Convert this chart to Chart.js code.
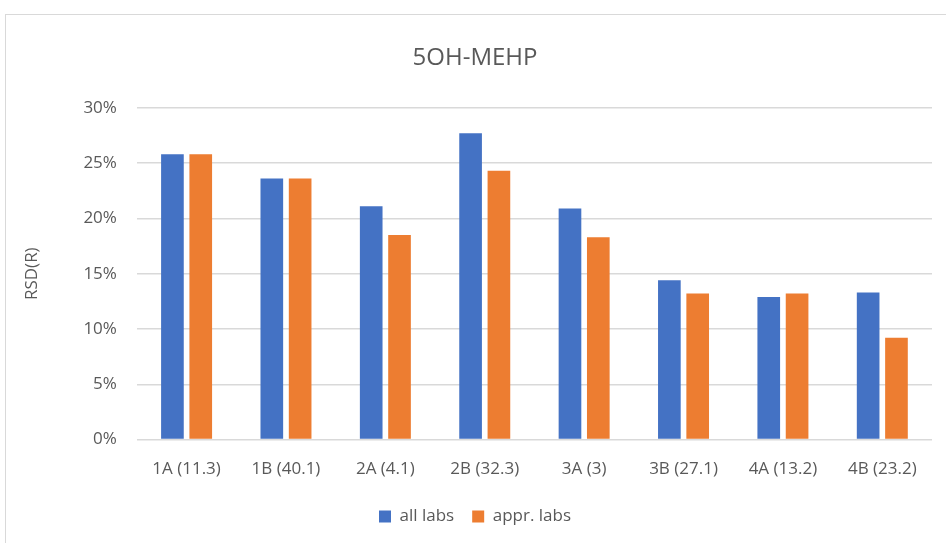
<!DOCTYPE html>
<html>
<head>
<meta charset="utf-8">
<script src="https://cdn.jsdelivr.net/npm/chart.js@4/dist/chart.umd.min.js"></script>
<style>
  html, body { margin: 0; padding: 0; background: #fff; overflow: hidden; }
  #frame {
    position: absolute; left: 5px; top: 14px;
    width: 966px; height: 540px;
    border: 1px solid #d9d9d9; box-sizing: border-box;
  }
  #wrap { position: absolute; left: 0; top: 0; width: 964px; height: 530px; }
</style>
</head>
<body>
<div id="frame"><div id="wrap"><canvas id="chart"></canvas></div></div>
<script>
// --- Data ---
const categories = ['1A (11.3)', '1B (40.1)', '2A (4.1)', '2B (32.3)', '3A (3)', '3B (27.1)', '4A (13.2)', '4B (23.2)'];
const allLabs = [25.8, 23.6, 21.1, 27.7, 20.9, 14.4, 12.9, 13.3];
const apprLabs = [25.8, 23.6, 18.5, 24.3, 18.3, 13.2, 13.2, 9.2];
const yTicks = [0, 5, 10, 15, 20, 25, 30];

const textColor = '#595959';
const fontFamily = "'Open Sans', 'Noto Sans', sans-serif";

const ctx = document.getElementById('chart').getContext('2d');
new Chart(ctx, {
    type: 'bar',
    data: {
        labels: categories,
        datasets: [
            { label: 'all labs', data: allLabs, backgroundColor: '#4472C4' },
            { label: 'appr. labs', data: apprLabs, backgroundColor: '#ED7D31' }
        ]
    },
    options: {
        responsive: true,
        maintainAspectRatio: false,
        animation: false,
        datasets: {
            bar: { barPercentage: 0.8, categoryPercentage: 0.57 }
        },
        layout: { padding: { left: 12, right: 38, top: 0, bottom: 10 } },
        plugins: {
            title: {
                display: true,
                text: '5OH-MEHP',
                color: textColor,
                font: { family: fontFamily, size: 24, weight: 'normal' },
                padding: { top: 29, bottom: 35 }
            },
            legend: {
                position: 'bottom',
                labels: {
                    color: textColor,
                    font: { family: fontFamily, size: 17 },
                    boxWidth: 12,
                    boxHeight: 12,
                    padding: 18
                }
            },
            tooltip: { enabled: false }
        },
        scales: {
            x: {
                grid: { display: false },
                border: { display: false },
                ticks: {
                    color: textColor,
                    font: { family: fontFamily, size: 17 },
                    padding: 11,
                    maxRotation: 0
                }
            },
            y: {
                min: 0,
                max: 30,
                afterBuildTicks: axis => { axis.ticks = yTicks.map(v => ({ value: v })); },
                grid: { color: '#d9d9d9', lineWidth: 1.5, drawTicks: false },
                border: { display: false },
                ticks: {
                    color: textColor,
                    font: { family: fontFamily, size: 17 },
                    padding: 20,
                    callback: v => v + '%'
                },
                title: {
                    display: true,
                    text: 'RSD(R)',
                    color: textColor,
                    font: { family: fontFamily, size: 17 },
                    padding: { bottom: 21 }
                }
            }
        }
    }
});
</script>
</body>
</html>
